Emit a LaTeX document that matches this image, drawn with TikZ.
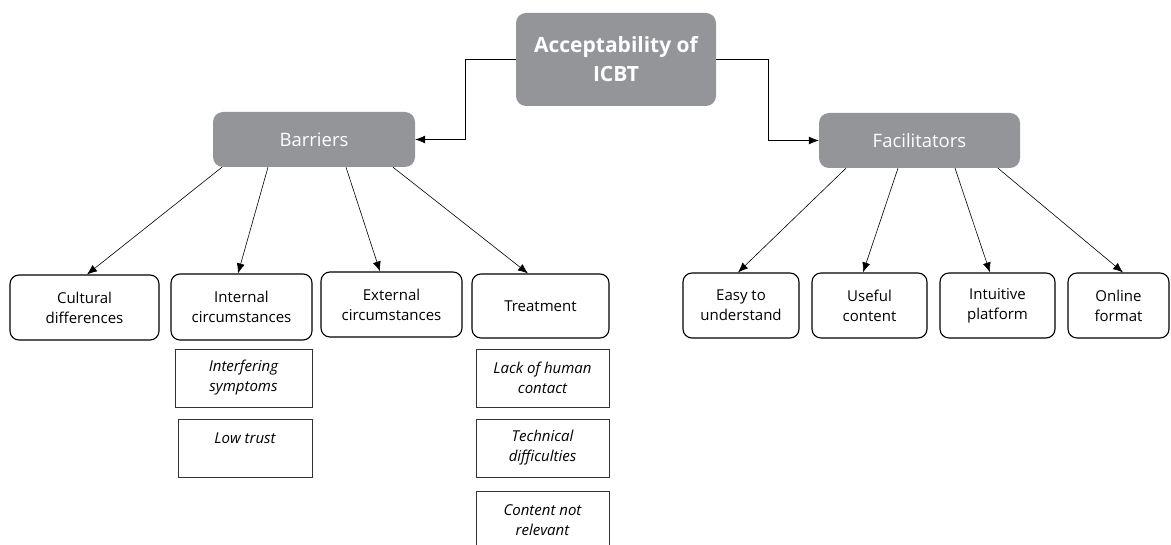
\documentclass[tikz,border=0pt]{standalone}
\usepackage{fontspec}
\setmainfont{Open Sans}
\usetikzlibrary{arrows.meta,calc}
\definecolor{gbox}{HTML}{939598}
\tikzset{
  topbox/.style={fill=gbox, draw=none, rounded corners=10pt, text=white, align=center, inner sep=0pt},
  catbox/.style={draw=black, line width=1.1pt, rounded corners=9pt, fill=white, align=center, inner sep=0pt, font=\fontsize{15}{20}\selectfont},
  subbox/.style={draw=black!80, line width=0.8pt, fill=white, align=center, inner sep=0pt, font=\fontsize{15}{20}\selectfont\itshape},
  conn/.style={line width=0.6pt, -{Latex[length=10pt,width=8pt]}}
}
\begin{document}
\begin{tikzpicture}[x=1pt,y=-1pt]
\useasboundingbox (0,0) rectangle (1171,545);
\clip (0,0) rectangle (1171,545);
% top level
\node[topbox, minimum width=200pt, minimum height=93pt, font=\fontsize{21}{29}\selectfont\bfseries] (root) at (616,59.5) {Acceptability of\\ICBT};
\node[topbox, minimum width=202pt, minimum height=55pt, font=\fontsize{18.5}{22}\selectfont] (barriers) at (314,139.5) {Barriers};
\node[topbox, minimum width=201pt, minimum height=55pt, font=\fontsize{18.5}{22}\selectfont] (facil) at (919.5,140.5) {Facilitators};
% barrier categories
\node[catbox, minimum width=149pt, minimum height=65pt] (cult) at (84.5,307.5) {Cultural\\differences};
\node[catbox, minimum width=141pt, minimum height=66pt] (intern) at (241.5,307) {Internal\\circumstances};
\node[catbox, minimum width=141pt, minimum height=65pt] (extern) at (391.5,304.5) {External\\circumstances};
\node[catbox, minimum width=137pt, minimum height=64pt] (treat) at (540.5,306) {Treatment};
% sub boxes
\node[subbox, minimum width=137pt, minimum height=58pt] (interf) at (243.5,378) {Interfering\\symptoms};
\node[subbox, minimum width=134pt, minimum height=58pt] (lowtrust) at (245,448) {Low trust\\\mbox{}};
\node[subbox, minimum width=133pt, minimum height=58pt] (lack) at (542.5,378) {Lack of human\\contact};
\node[subbox, minimum width=133pt, minimum height=58pt] (tech) at (542.5,448) {Technical\\difficulties};
\node[subbox, minimum width=133pt, minimum height=58pt] (content) at (542.5,520) {Content not\\relevant};
% facilitator categories
\node[catbox, minimum width=116pt, minimum height=65pt] (easy) at (741,305.5) {Easy to\\understand};
\node[catbox, minimum width=115pt, minimum height=65pt] (useful) at (869.5,305.5) {Useful\\content};
\node[catbox, minimum width=115pt, minimum height=65pt] (intuit) at (997.5,305.5) {Intuitive\\platform};
\node[catbox, minimum width=101pt, minimum height=65pt] (online) at (1118.5,305.5) {Online\\format};
% connectors
\draw[conn] (root.west) -- ++(-51,0) |- (barriers.east);
\draw[conn] (root.east) -- ++(52,0) |- (facil.west);
\draw[conn] ([xshift=-92pt]barriers.south) -- ([xshift=2.5pt]cult.north);
\draw[conn] ([xshift=-46pt]barriers.south) -- ([xshift=-3.5pt]intern.north);
\draw[conn] ([xshift=32pt]barriers.south) -- ([xshift=-11.5pt]extern.north);
\draw[conn] ([xshift=79pt]barriers.south) -- ([xshift=-12.5pt]treat.north);
\draw[conn] ([xshift=-73.5pt]facil.south) -- ([xshift=-3pt]easy.north);
\draw[conn] ([xshift=-21.5pt]facil.south) -- ([xshift=-6.5pt]useful.north);
\draw[conn] ([xshift=35.5pt]facil.south) -- ([xshift=-7.5pt]intuit.north);
\draw[conn] ([xshift=78.5pt]facil.south) -- ([xshift=4.5pt]online.north);
\end{tikzpicture}
\end{document}
